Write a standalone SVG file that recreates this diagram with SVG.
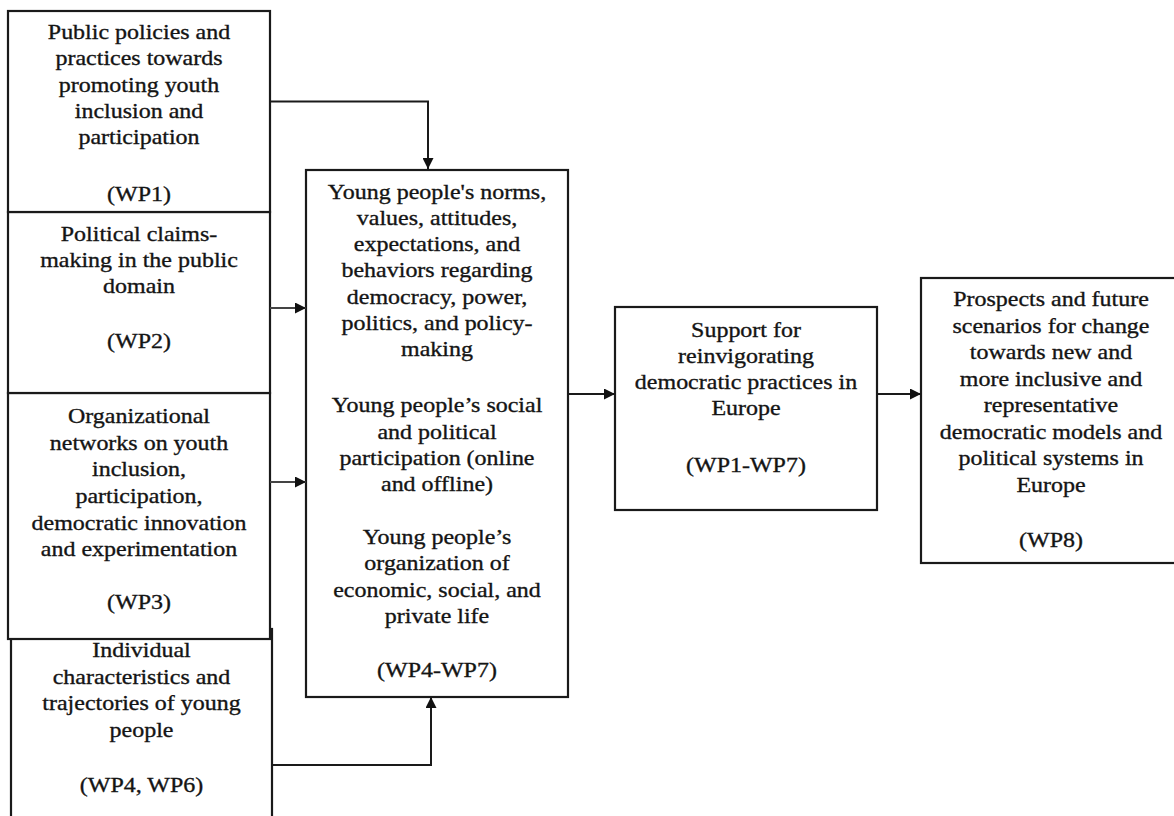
<svg xmlns="http://www.w3.org/2000/svg" width="1174" height="816" viewBox="0 0 1174 816">
<style>
.box{fill:#fff;stroke:#1a1a1a;stroke-width:2.2}
.t{font-family:"Liberation Serif","Times New Roman",serif;font-size:22px;fill:#141414;stroke:#141414;stroke-width:0.35;text-anchor:middle}
.c{fill:none;stroke:#1a1a1a;stroke-width:2}
.g{fill:none;stroke:#444;stroke-width:2.2}
</style>
<defs>
<marker id="ah" viewBox="0 0 10 10" refX="10" refY="5" markerWidth="11" markerHeight="11" markerUnits="userSpaceOnUse" orient="auto">
<path d="M0,0 L10,5 L0,10 z" fill="#111"/>
</marker>
</defs>
<rect width="1174" height="816" fill="#fff"/>

<g id="wp4">
<rect class="box" x="11" y="629" width="261" height="220"/>
<g transform="translate(141.5 0) scale(1.09 1)">
<text class="t" x="0" y="657">Individual</text>
<text class="t" x="0" y="684">characteristics and</text>
<text class="t" x="0" y="710.5">trajectories of young</text>
<text class="t" x="0" y="737">people</text>
<text class="t" x="0" y="792">(WP4, WP6)</text>
</g>
</g>

<g id="wp3">
<rect class="box" x="8" y="393" width="262" height="246"/>
<g transform="translate(139 0) scale(1.09 1)">
<text class="t" x="0" y="423">Organizational</text>
<text class="t" x="0" y="449.7">networks on youth</text>
<text class="t" x="0" y="476.4">inclusion,</text>
<text class="t" x="0" y="503.1">participation,</text>
<text class="t" x="0" y="529.8">democratic innovation</text>
<text class="t" x="0" y="556.5">and experimentation</text>
<text class="t" x="0" y="609">(WP3)</text>
</g>
</g>

<g id="wp2">
<rect class="box" x="8" y="212" width="262" height="181"/>
<g transform="translate(139 0) scale(1.09 1)">
<text class="t" x="0" y="240.7">Political claims-</text>
<text class="t" x="0" y="267">making in the public</text>
<text class="t" x="0" y="293.3">domain</text>
<text class="t" x="0" y="347.7">(WP2)</text>
</g>
</g>

<g id="wp1">
<rect class="box" x="8" y="11" width="262" height="201"/>
<g transform="translate(139 0) scale(1.09 1)">
<text class="t" x="0" y="39.3">Public policies and</text>
<text class="t" x="0" y="65.5">practices towards</text>
<text class="t" x="0" y="91.7">promoting youth</text>
<text class="t" x="0" y="118">inclusion and</text>
<text class="t" x="0" y="144">participation</text>
<text class="t" x="0" y="201">(WP1)</text>
</g>
</g>

<g id="center">
<rect class="box" x="306" y="170" width="262" height="527"/>
<g transform="translate(437 0) scale(1.09 1)">
<text class="t" x="0" y="198.6">Young people's norms,</text>
<text class="t" x="0" y="224.9">values, attitudes,</text>
<text class="t" x="0" y="251.2">expectations, and</text>
<text class="t" x="0" y="277.5">behaviors regarding</text>
<text class="t" x="0" y="303.8">democracy, power,</text>
<text class="t" x="0" y="330.1">politics, and policy-</text>
<text class="t" x="0" y="356.4">making</text>
<text class="t" x="0" y="412.5">Young people’s social</text>
<text class="t" x="0" y="438.8">and political</text>
<text class="t" x="0" y="465.1">participation (online</text>
<text class="t" x="0" y="491.4">and offline)</text>
<text class="t" x="0" y="544">Young people’s</text>
<text class="t" x="0" y="570.3">organization of</text>
<text class="t" x="0" y="596.6">economic, social, and</text>
<text class="t" x="0" y="622.9">private life</text>
<text class="t" x="0" y="677.4">(WP4-WP7)</text>
</g>
</g>

<g id="support">
<rect class="box" x="615" y="307" width="262" height="203"/>
<g transform="translate(746 0) scale(1.09 1)">
<text class="t" x="0" y="337">Support for</text>
<text class="t" x="0" y="363">reinvigorating</text>
<text class="t" x="0" y="389">democratic practices in</text>
<text class="t" x="0" y="415">Europe</text>
<text class="t" x="0" y="471.7">(WP1-WP7)</text>
</g>
</g>

<g id="wp8">
<rect class="box" x="921" y="278" width="262" height="285"/>
<g transform="translate(1051 0) scale(1.09 1)">
<text class="t" x="0" y="306.5">Prospects and future</text>
<text class="t" x="0" y="333">scenarios for change</text>
<text class="t" x="0" y="359.5">towards new and</text>
<text class="t" x="0" y="386">more inclusive and</text>
<text class="t" x="0" y="412.5">representative</text>
<text class="t" x="0" y="439">democratic models and</text>
<text class="t" x="0" y="465.5">political systems in</text>
<text class="t" x="0" y="492">Europe</text>
<text class="t" x="0" y="546.7">(WP8)</text>
</g>
</g>

<g id="connectors">
<path class="c" d="M270,101.5 H428 V169" marker-end="url(#ah)"/>
<path class="g" d="M270,308 H306" marker-end="url(#ah)"/>
<path class="g" d="M270,482 H306" marker-end="url(#ah)"/>
<path class="c" d="M272,765 H431 V697" marker-end="url(#ah)"/>
<path class="c" d="M568,394 H615" marker-end="url(#ah)"/>
<path class="c" d="M877,394 H921" marker-end="url(#ah)"/>
</g>
</svg>
